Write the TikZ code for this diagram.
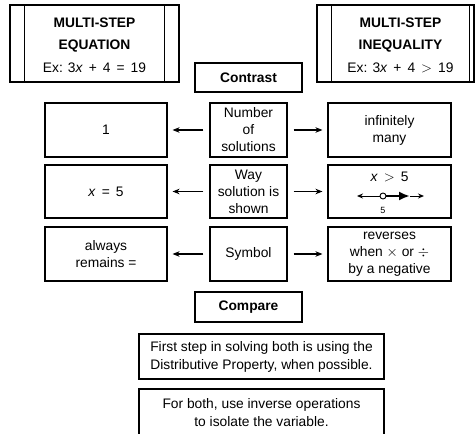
\documentclass[tikz,border=0pt]{standalone}
\usepackage{fontspec}
\setmainfont{Liberation Sans}
\usetikzlibrary{arrows.meta}
\newcommand\wsp{\hspace{6pt}}
\begin{document}
\begin{tikzpicture}[x=1pt,y=-1pt,
  box/.style={draw, line width=1.1pt, inner sep=0pt, align=center, font=\fontsize{13.8}{17}\selectfont},
  lbl/.style={inner sep=0pt, align=center, font=\fontsize{13.8}{17}\selectfont},
  title/.style={inner sep=0pt, align=center, font=\fontsize{13.8}{22.5}\selectfont},
  conn/.style={line width=1.1pt, -{Stealth[length=7pt,width=5.5pt]}, shorten <=6pt, shorten >=5pt},
  thinarr/.style={line width=1pt, -{Stealth[length=6pt,width=5pt]}},
]
\useasboundingbox (0,0) rectangle (475,434);
\clip (0,0) rectangle (475,434);

% top boxes
\node[box, minimum width=169pt, minimum height=77pt] (eqL) at (94.5,43.5) {};
\draw[line width=1.1pt] ([xshift=15pt]eqL.north west) -- ([xshift=15pt]eqL.south west);
\draw[line width=1.1pt] ([xshift=-15pt]eqL.north east) -- ([xshift=-15pt]eqL.south east);
\node[title] (eqLt) at (94.5,45) {\bfseries MULTI-STEP\\\bfseries EQUATION\\Ex: 3\textit{x}\wsp+\wsp4\wsp=\wsp19};

\node[box, minimum width=157pt, minimum height=77pt] (eqR) at (395.5,43.5) {};
\draw[line width=1.1pt] ([xshift=15pt]eqR.north west) -- ([xshift=15pt]eqR.south west);
\draw[line width=1.1pt] ([xshift=-5pt]eqR.north east) -- ([xshift=-5pt]eqR.south east);
\node[title] (eqRt) at (400.5,45) {\bfseries MULTI-STEP\\\bfseries INEQUALITY\\Ex: 3\textit{x}\wsp+\wsp4\wsp$>$\wsp19};

% contrast
\node[box, minimum width=107pt, minimum height=29pt, font=\fontsize{13.8}{17}\selectfont\bfseries] (contrast) at (248.5,77.5) {Contrast};

% row 1
\node[box, minimum width=122pt, minimum height=54pt] (l1) at (106,130) {1};
\node[box, minimum width=77pt, minimum height=54pt] (m1) at (248.5,130) {Number\\of\\solutions};
\node[box, minimum width=123pt, minimum height=54pt] (r1) at (389.5,130) {infinitely\\many};
\draw[conn] (m1) -- (l1);
\draw[conn] (m1) -- (r1);

% row 2
\node[box, minimum width=122pt, minimum height=53pt] (l2) at (106,191.5) {\textit{x}\wsp=\wsp5};
\node[box, minimum width=77pt, minimum height=53pt] (m2) at (248.5,191.5) {Way\\solution is\\shown};
\node[box, minimum width=123pt, minimum height=53pt] (r2) at (389.5,191.5) {};
\draw[conn] (m2) -- (l2);
\draw[conn] (m2) -- (r2);
\node[lbl] (xgt) at (389.5,177) {\textit{x}\wsp$>$\wsp5};
\node[circle, draw, fill=white, inner sep=0pt, minimum size=6pt, line width=0.9pt] (c5) at (383,196) {};
\coordinate (nlL) at (357,196);
\coordinate (th) at (410,196);
\coordinate (nlR) at (424,196);
\draw[thinarr] (c5.west) -- (nlL);
\draw[line width=2.2pt, -{Latex[length=11pt,width=9pt]}] (c5.east) -- (th);
\draw[thinarr] (th) -- (nlR);
\node[inner sep=0pt, font=\fontsize{9}{10}\selectfont] (five) at (383,210.5) {5};

% row 3
\node[box, minimum width=122pt, minimum height=54pt] (l3) at (106,254) {always\\remains =};
\node[box, minimum width=77pt, minimum height=54pt] (m3) at (248.5,254) {Symbol};
\node[box, minimum width=123pt, minimum height=54pt] (r3) at (389.5,254) {reverses\\when $\times$ or $\div$\\by a negative};
\draw[conn] (m3) -- (l3);
\draw[conn] (m3) -- (r3);

% compare
\node[box, minimum width=107pt, minimum height=30pt, font=\fontsize{13.8}{17}\selectfont\bfseries] (compare) at (248.5,307) {Compare};
\node[box, minimum width=245pt, minimum height=45pt, font=\fontsize{13.8}{18}\selectfont] (first) at (261.5,356.5) {First step in solving both is using the\\Distributive Property, when possible.};
\node[box, minimum width=245pt, minimum height=48pt, font=\fontsize{13.8}{18}\selectfont] (both) at (261.5,413) {For both, use inverse operations\\to isolate the variable.};
\end{tikzpicture}
\end{document}
